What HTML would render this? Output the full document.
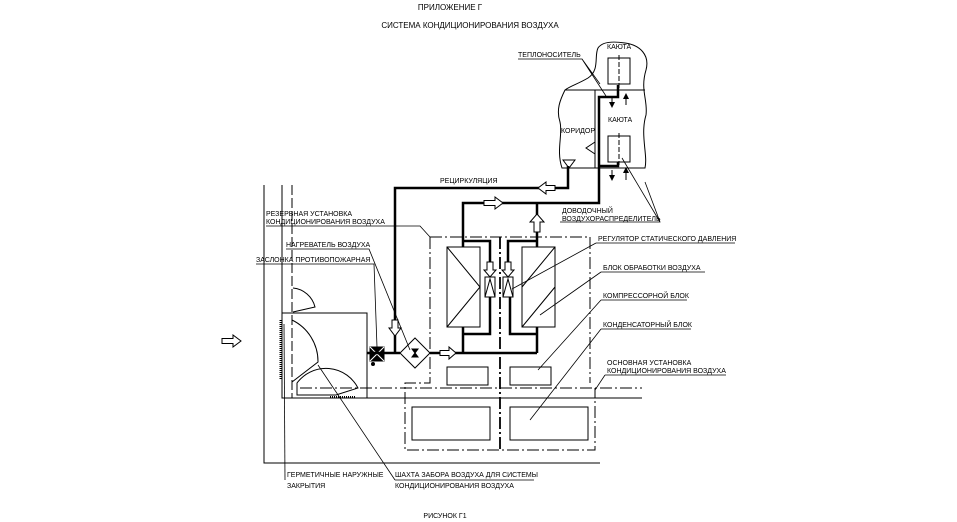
<!DOCTYPE html>
<html><head><meta charset="utf-8"><style>
html,body{margin:0;padding:0;background:#fff;}
svg{display:block;}
text{font-family:"Liberation Sans",sans-serif;font-size:7px;fill:#000;}
</style></head><body>
<svg width="957" height="522" viewBox="0 0 957 522" xmlns="http://www.w3.org/2000/svg">
<defs>
<marker id="a" markerWidth="6" markerHeight="6" refX="3" refY="3" orient="auto"><path d="M0,0 L6,3 L0,6z" fill="#000"/></marker>
</defs>
<g fill="none" stroke="#000" stroke-width="1">
<text x="450" y="10" text-anchor="middle" stroke="none" style="font-size:8px">ПРИЛОЖЕНИЕ Г</text>
<text x="470" y="28" text-anchor="middle" stroke="none" style="font-size:8px">СИСТЕМА КОНДИЦИОНИРОВАНИЯ ВОЗДУХА</text>

<!-- walls -->
<path d="M264,185 V463 H600"/>
<path d="M282,185 V313"/>
<path d="M292,185 V398" stroke-dasharray="10,3"/>
<path d="M282,398 H642"/>
<path d="M300,388 H642" stroke-dasharray="12,3,2,3"/>
<rect x="282" y="313" width="85" height="85"/>
<!-- doors -->
<path d="M293,288 A25,25 0 0 1 315,307 L293,312"/>
<path d="M292,320 A46,46 0 0 1 318,362 L292,382"/>
<path d="M297,383 A36,36 0 0 1 358,388 L336,395 L297,395 Z"/>
<path d="M281,320 V380" stroke-width="3" stroke-dasharray="1,1"/>
<path d="M330,397 H356" stroke-width="2" stroke-dasharray="1,1"/>
<!-- damper -->
<rect x="370" y="347" width="14" height="14" fill="#000"/>
<path d="M370,347 L384,361 M384,347 L370,361" stroke="#fff"/>
<circle cx="373" cy="364" r="1.5" fill="#000"/>
<!-- heater -->
<path d="M415,338 L430,353 L415,368 L400,353 Z"/>
<path d="M412,349 L418,349 L415,353 Z M412,357 L418,357 L415,353 Z" fill="#000"/>
<!-- main pipes -->
<g stroke-width="2.5">
<path d="M367,353 H400 M430,353 H537"/>
<path d="M395,353 V188 H568 V166"/>
<path d="M463,353 V327 M463,247 V203 H599 V97 H618 V85"/>
<path d="M537,353 V327 M537,247 V203"/>
<path d="M463,241 H490 V262 M537,241 H508 V262"/>
<path d="M463,334 H490 V297 M537,334 H510 V297"/>
<path d="M599,166 H618 V162"/>
</g>
<!-- hollow arrows -->
<g fill="#fff" stroke="#000">
<path d="M392,320 H398 V328 H401 L395,336 L389,328 H392 Z"/>
<path d="M440,350.5 H449 V347 L456,353 L449,359 V355.5 H440 Z"/>
<path d="M555,185.5 H546 V182 L538,188 L546,194 V190.5 H555 Z"/>
<path d="M484,200.5 H495 V197 L503,203 L495,209 V205.5 H484 Z"/>
<path d="M534,232 V222 H530 L537,214 L544,222 H540 V232 Z"/>
<path d="M487,262 H493 V270 H496 L490,277 L484,270 H487 Z"/>
<path d="M505,262 H511 V270 H514 L508,277 L502,270 H505 Z"/>
<path d="M222,338.5 H233 V335 L241,341 L233,347 V343.5 H222 Z"/>
</g>
<!-- regulators -->
<rect x="485" y="277" width="10" height="20"/><path d="M485,297 L490,279 L495,297"/>
<rect x="503" y="277" width="10" height="20"/><path d="M503,297 L508,279 L513,297"/>
<!-- units -->
<rect x="447" y="247" width="33" height="80"/><path d="M447,247 L480,287 L447,327"/>
<rect x="522" y="247" width="33" height="80"/><path d="M555,247 L522,287 M522,327 L555,287"/>
<!-- dash-dot boxes -->
<g stroke-dasharray="12,3,2,3">
<path d="M430,237 H590 V383 M430,237 V383 H405 V450 H595 V388"/>
<path d="M500,237 V450" stroke-width="1.8"/>
</g>
<rect x="447" y="367" width="41" height="18"/>
<rect x="510" y="367" width="41" height="18"/>
<rect x="412" y="407" width="78" height="33"/>
<rect x="510" y="407" width="78" height="33"/>
<!-- cabin area -->
<path d="M565,90 C560,100 556,110 560,122 C563,135 556,150 562,168 H645 C648,155 640,135 646,115 C648,100 640,90 646,70 C650,55 640,45 625,43 C612,41 602,42 598,48 C594,56 600,70 588,78 C578,84 570,86 565,90 Z"/>
<path d="M565,90 H645"/>
<path d="M595,90 V168"/>
<rect x="608" y="58" width="22" height="26"/>
<rect x="608" y="136" width="22" height="26"/>
<path d="M619,55 V88 M619,133 V165" stroke-dasharray="5,2"/>
<path d="M563,160 L575,160 L569,168 Z"/>
<path d="M595,142 L586,148 L595,154"/>
<g stroke-width="1"><path d="M612,98 V105" marker-end="url(#a)"/><path d="M626,105 V96" marker-end="url(#a)"/>
<path d="M612,170 V178" marker-end="url(#a)"/><path d="M626,180 V170" marker-end="url(#a)"/></g>
<!-- labels + leaders -->
<g stroke-width="0.8">
<path d="M518,59 H582 L606,96 M582,59 L600,84"/>
<path d="M560,222 H660 L645,182 M660,222 L622,158"/>
<path d="M266,226 H420 L430,237"/>
<path d="M286,249 H369 L410,350"/>
<path d="M256,264 H374 L377,347"/>
<path d="M596,243 H735 M596,243 L512,289"/>
<path d="M601,272 H705 M601,272 L540,315"/>
<path d="M601,300 H687 M601,300 L538,370"/>
<path d="M601,329 H691 M601,329 L530,420"/>
<path d="M605,375 H726 M605,375 L595,390"/>
<path d="M285,480 L284,324"/>
<path d="M395,480 H534 M395,480 L318,365"/>
</g>
</g>
<text x="518" y="57">ТЕПЛОНОСИТЕЛЬ</text>
<text x="607" y="49">КАЮТА</text>
<text x="608" y="122">КАЮТА</text>
<text x="561" y="133">КОРИДОР</text>
<text x="440" y="183">РЕЦИРКУЛЯЦИЯ</text>
<text x="562" y="213">ДОВОДОЧНЫЙ</text>
<text x="562" y="221">ВОЗДУХОРАСПРЕДЕЛИТЕЛЬ</text>
<text x="266" y="216">РЕЗЕРВНАЯ УСТАНОВКА</text>
<text x="266" y="224">КОНДИЦИОНИРОВАНИЯ ВОЗДУХА</text>
<text x="286" y="247">НАГРЕВАТЕЛЬ ВОЗДУХА</text>
<text x="256" y="262">ЗАСЛОНКА ПРОТИВОПОЖАРНАЯ</text>
<text x="598" y="241">РЕГУЛЯТОР СТАТИЧЕСКОГО ДАВЛЕНИЯ</text>
<text x="603" y="270">БЛОК ОБРАБОТКИ ВОЗДУХА</text>
<text x="603" y="298">КОМПРЕССОРНОЙ БЛОК</text>
<text x="603" y="327">КОНДЕНСАТОРНЫЙ БЛОК</text>
<text x="607" y="365">ОСНОВНАЯ УСТАНОВКА</text>
<text x="607" y="373">КОНДИЦИОНИРОВАНИЯ ВОЗДУХА</text>
<text x="287" y="477">ГЕРМЕТИЧНЫЕ НАРУЖНЫЕ</text>
<text x="287" y="488">ЗАКРЫТИЯ</text>
<text x="395" y="477">ШАХТА ЗАБОРА ВОЗДУХА  ДЛЯ СИСТЕМЫ</text>
<text x="395" y="488">КОНДИЦИОНИРОВАНИЯ ВОЗДУХА</text>
<text x="445" y="518" text-anchor="middle">РИСУНОК  Г1</text>
</svg>
</body></html>
